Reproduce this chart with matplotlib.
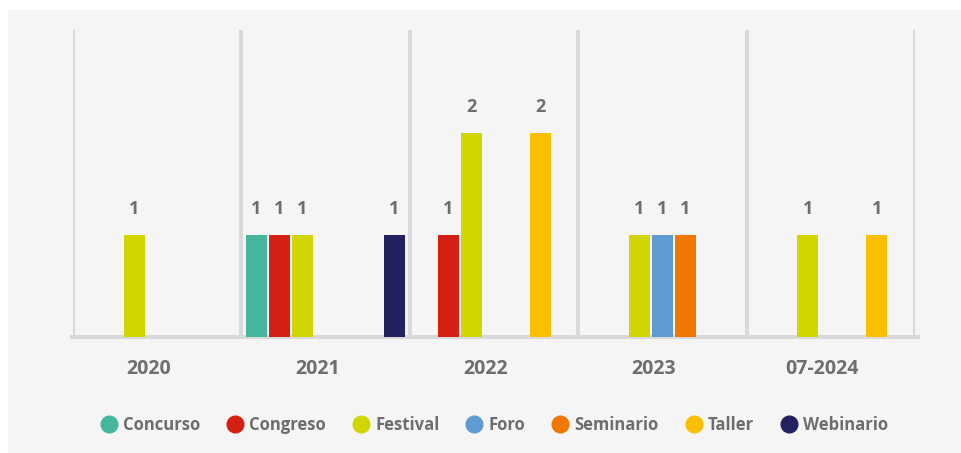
import numpy as np
import matplotlib.pyplot as plt
from matplotlib.patches import Rectangle
from matplotlib.lines import Line2D

# data
years = ["2020", "2021", "2022", "2023", "07-2024"]
series_names = ["Concurso", "Congreso", "Festival", "Foro", "Seminario", "Taller", "Webinario"]
concurso = [0, 1, 0, 0, 0]
congreso = [0, 1, 1, 0, 0]
festival = [1, 1, 2, 1, 1]
foro = [0, 0, 0, 1, 0]
seminario = [0, 0, 0, 1, 0]
taller = [0, 0, 2, 0, 1]
webinario = [0, 1, 0, 0, 0]

colors = ["#45B69C", "#D52114", "#D1D600", "#5F9BD3", "#F07800", "#FCBF00", "#232160"]
text_color = "#6E6E6E"
grid_color = "#D9D9D9"
bg_color = "#F5F5F5"

plt.rcParams["font.family"] = ["Open Sans", "DejaVu Sans"]
plt.rcParams["font.weight"] = "bold"

fig = plt.figure(figsize=(9.61, 4.53), dpi=100)
fig.patch.set_facecolor("white")
# light gray panel (small white margin at top and left)
fig.patches.append(Rectangle((8 / 961, 0), 1, 1 - 10 / 453, transform=fig.transFigure,
                             facecolor=bg_color, edgecolor="none", zorder=-10))

ax = fig.add_axes([73 / 961, (453 - 337) / 453, (915 - 73) / 961, (337 - 30) / 453])
ax.set_facecolor("none")

all_series = [concurso, congreso, festival, foro, seminario, taller, webinario]
n = len(all_series)
x = np.arange(len(years)) + 0.5
step = 23 / 168.4
width = 21 / 168.4

for i, (name, vals) in enumerate(zip(series_names, all_series)):
    vals = np.array(vals, dtype=float)
    pos = x + (i - (n - 1) / 2) * step
    mask = vals > 0
    ax.bar(pos[mask], vals[mask], width=width, color=colors[i], zorder=3)
    for px, v in zip(pos[mask], vals[mask]):
        ax.annotate(f"{int(v)}", (px, v), xytext=(0, 15), textcoords="offset points",
                    ha="center", va="baseline", fontsize=13, fontweight="bold",
                    color=text_color)

# vertical separators between years
for b in range(len(years) + 1):
    ax.axvline(b, color=grid_color, lw=2.9, zorder=1)
# bottom axis line
ax.plot([-0.018, len(years) + 0.03], [0, 0], color=grid_color, lw=2.9,
        clip_on=False, zorder=2, solid_capstyle="butt")

ax.set_xlim(0, len(years))
ax.set_ylim(0, 3.01)
ax.set_yticks([])
ax.set_xticks(x - 0.05)
ax.set_xticklabels(years, fontsize=14, fontweight="bold", color=text_color)
ax.tick_params(axis="x", length=0, pad=16)
for s in ax.spines.values():
    s.set_visible(False)

handles = [Line2D([], [], marker="o", linestyle="none", markersize=12,
                  markerfacecolor=c, markeredgecolor=c) for c in colors]
leg = fig.legend(handles, series_names, loc="center", bbox_to_anchor=(493 / 961, 1 - 425 / 453),
                 ncol=7, frameon=False, handletextpad=0.2, columnspacing=1.45,
                 handlelength=1.3, prop={"size": 12, "weight": "bold"})
for t in leg.get_texts():
    t.set_color(text_color)

fig.savefig("out.png", dpi=100, facecolor=fig.get_facecolor())
